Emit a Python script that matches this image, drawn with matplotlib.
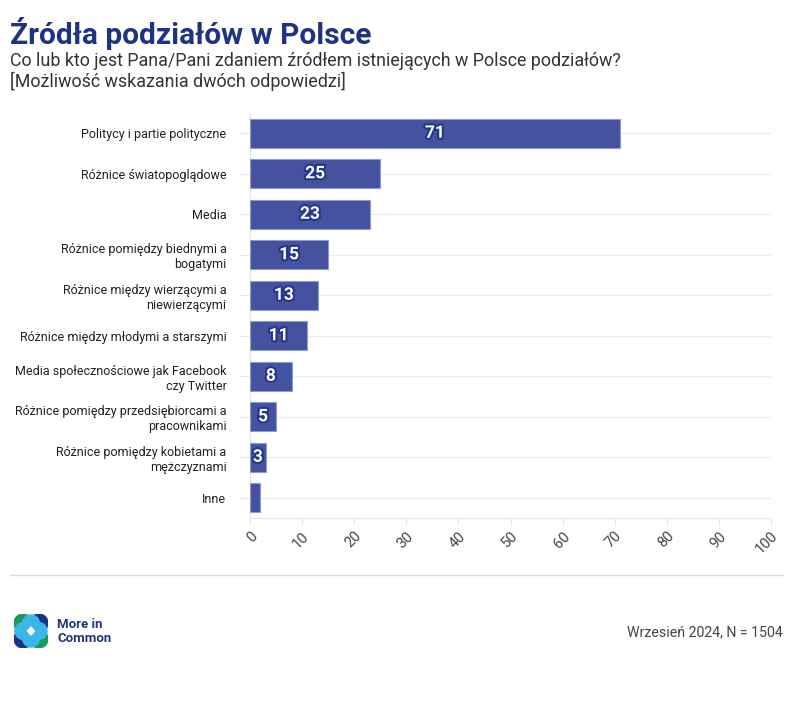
import matplotlib.pyplot as plt
import matplotlib.patches as patches
import matplotlib.patheffects as pe

categories = [
    "Politycy i partie polityczne",
    "Różnice światopoglądowe",
    "Media",
    "Różnice pomiędzy biednymi a\nbogatymi",
    "Różnice między wierzącymi a\nniewierzącymi",
    "Różnice między młodymi a starszymi",
    "Media społecznościowe jak Facebook\nczy Twitter",
    "Różnice pomiędzy przedsiębiorcami a\npracownikami",
    "Różnice pomiędzy kobietami a\nmężczyznami",
    "Inne",
]
values = [71, 25, 23, 15, 13, 11, 8, 5, 3, 2]
labels = ["71", "25", "23", "15", "13", "11", "8", "5", "3", ""]
xticks = list(range(0, 101, 10))

BAR = '#4452a0'
NAVY = '#1f3383'
FONT = ['Roboto', 'DejaVu Sans']
plt.rcParams['font.family'] = FONT

fig = plt.figure(figsize=(7.94, 7.02), dpi=100)
ax = fig.add_axes([250 / 794, 1 - 518 / 702, 521 / 794, 405 / 702])

y = list(range(len(categories)))
ax.barh(y, values, height=0.72, color=BAR, edgecolor='#8f9ad0', linewidth=0.8, zorder=3)
for yi, v, lab in zip(y, values, labels):
    if lab:
        ax.text(v / 2, yi, lab, ha='center', va='center', color='white',
                fontsize=12.5, fontweight='bold', zorder=4,
                path_effects=[pe.withStroke(linewidth=3, foreground='#27358a')])

ax.set_ylim(len(categories) - 0.5, -0.5)
ax.set_xlim(0, 100)
ax.set_yticks(y)
ax.set_yticklabels(categories, fontsize=9, color='#222222', multialignment='right')
ax.set_xticks(xticks)
ax.set_xticklabels([str(t) for t in xticks], rotation=45, ha='right', rotation_mode='anchor',
                   fontsize=10.5, color='#444444')
ax.tick_params(axis='y', length=7, color='#e6e6e6', pad=10)
ax.tick_params(axis='x', length=5, color='#e6e6e6', pad=3)
ax.grid(axis='y', color='#ebebeb', linewidth=0.8, zorder=0)
for s in ['top', 'right']:
    ax.spines[s].set_visible(False)
ax.spines['left'].set_color('#e6e6e6')
ax.spines['bottom'].set_color('#e6e6e6')

fig.text(10 / 794, 1 - 34 / 702, "Źródła podziałów w Polsce", fontsize=21.5, fontweight='bold',
         color=NAVY, va='center', ha='left')
fig.text(10 / 794, 1 - 61 / 702, "Co lub kto jest Pana/Pani zdaniem źródłem istniejących w Polsce podziałów?",
         fontsize=12.9, color='#333333', va='center', ha='left')
fig.text(10 / 794, 1 - 81 / 702, "[Możliwość wskazania dwóch odpowiedzi]",
         fontsize=12.9, color='#333333', va='center', ha='left')

fig.add_artist(plt.Line2D([10 / 794, 783 / 794], [1 - 575 / 702, 1 - 575 / 702],
                          color='#dddddd', linewidth=1))

fig.text(783 / 794, 1 - 632 / 702, "Wrzesień 2024, N = 1504", fontsize=10.2, color='#444444',
         ha='right', va='center')

# logo
lax = fig.add_axes([14 / 794, 1 - 648 / 702, 34 / 794, 34 / 702])
lax.set_xlim(0, 1)
lax.set_ylim(0, 1)
lax.set_aspect('equal')
lax.axis('off')
r = 0.27
for (cx, cy, col) in [(0.27, 0.73, '#1a9a5b'), (0.73, 0.73, NAVY),
                      (0.27, 0.27, NAVY), (0.73, 0.27, '#1a9a5b')]:
    lax.add_patch(patches.Circle((cx, cy), r, color=col))
for (cx, cy) in [(0.5, 0.72), (0.5, 0.28), (0.28, 0.5), (0.72, 0.5)]:
    lax.add_patch(patches.Circle((cx, cy), 0.25, color='#3bb6e8'))
lax.add_patch(patches.Circle((0.5, 0.5), 0.25, color='#3bb6e8'))
lax.add_patch(patches.Polygon([(0.5, 0.62), (0.6, 0.5), (0.5, 0.38), (0.4, 0.5)], color='white'))
fig.text(57 / 794, 1 - 624 / 702, "More in", fontsize=9.5, fontweight='bold', color=NAVY,
         ha='left', va='center')
fig.text(57 / 794, 1 - 638 / 702, "Common", fontsize=9.5, fontweight='bold', color=NAVY,
         ha='left', va='center')

fig.savefig('out.png', dpi=100, facecolor='white')
